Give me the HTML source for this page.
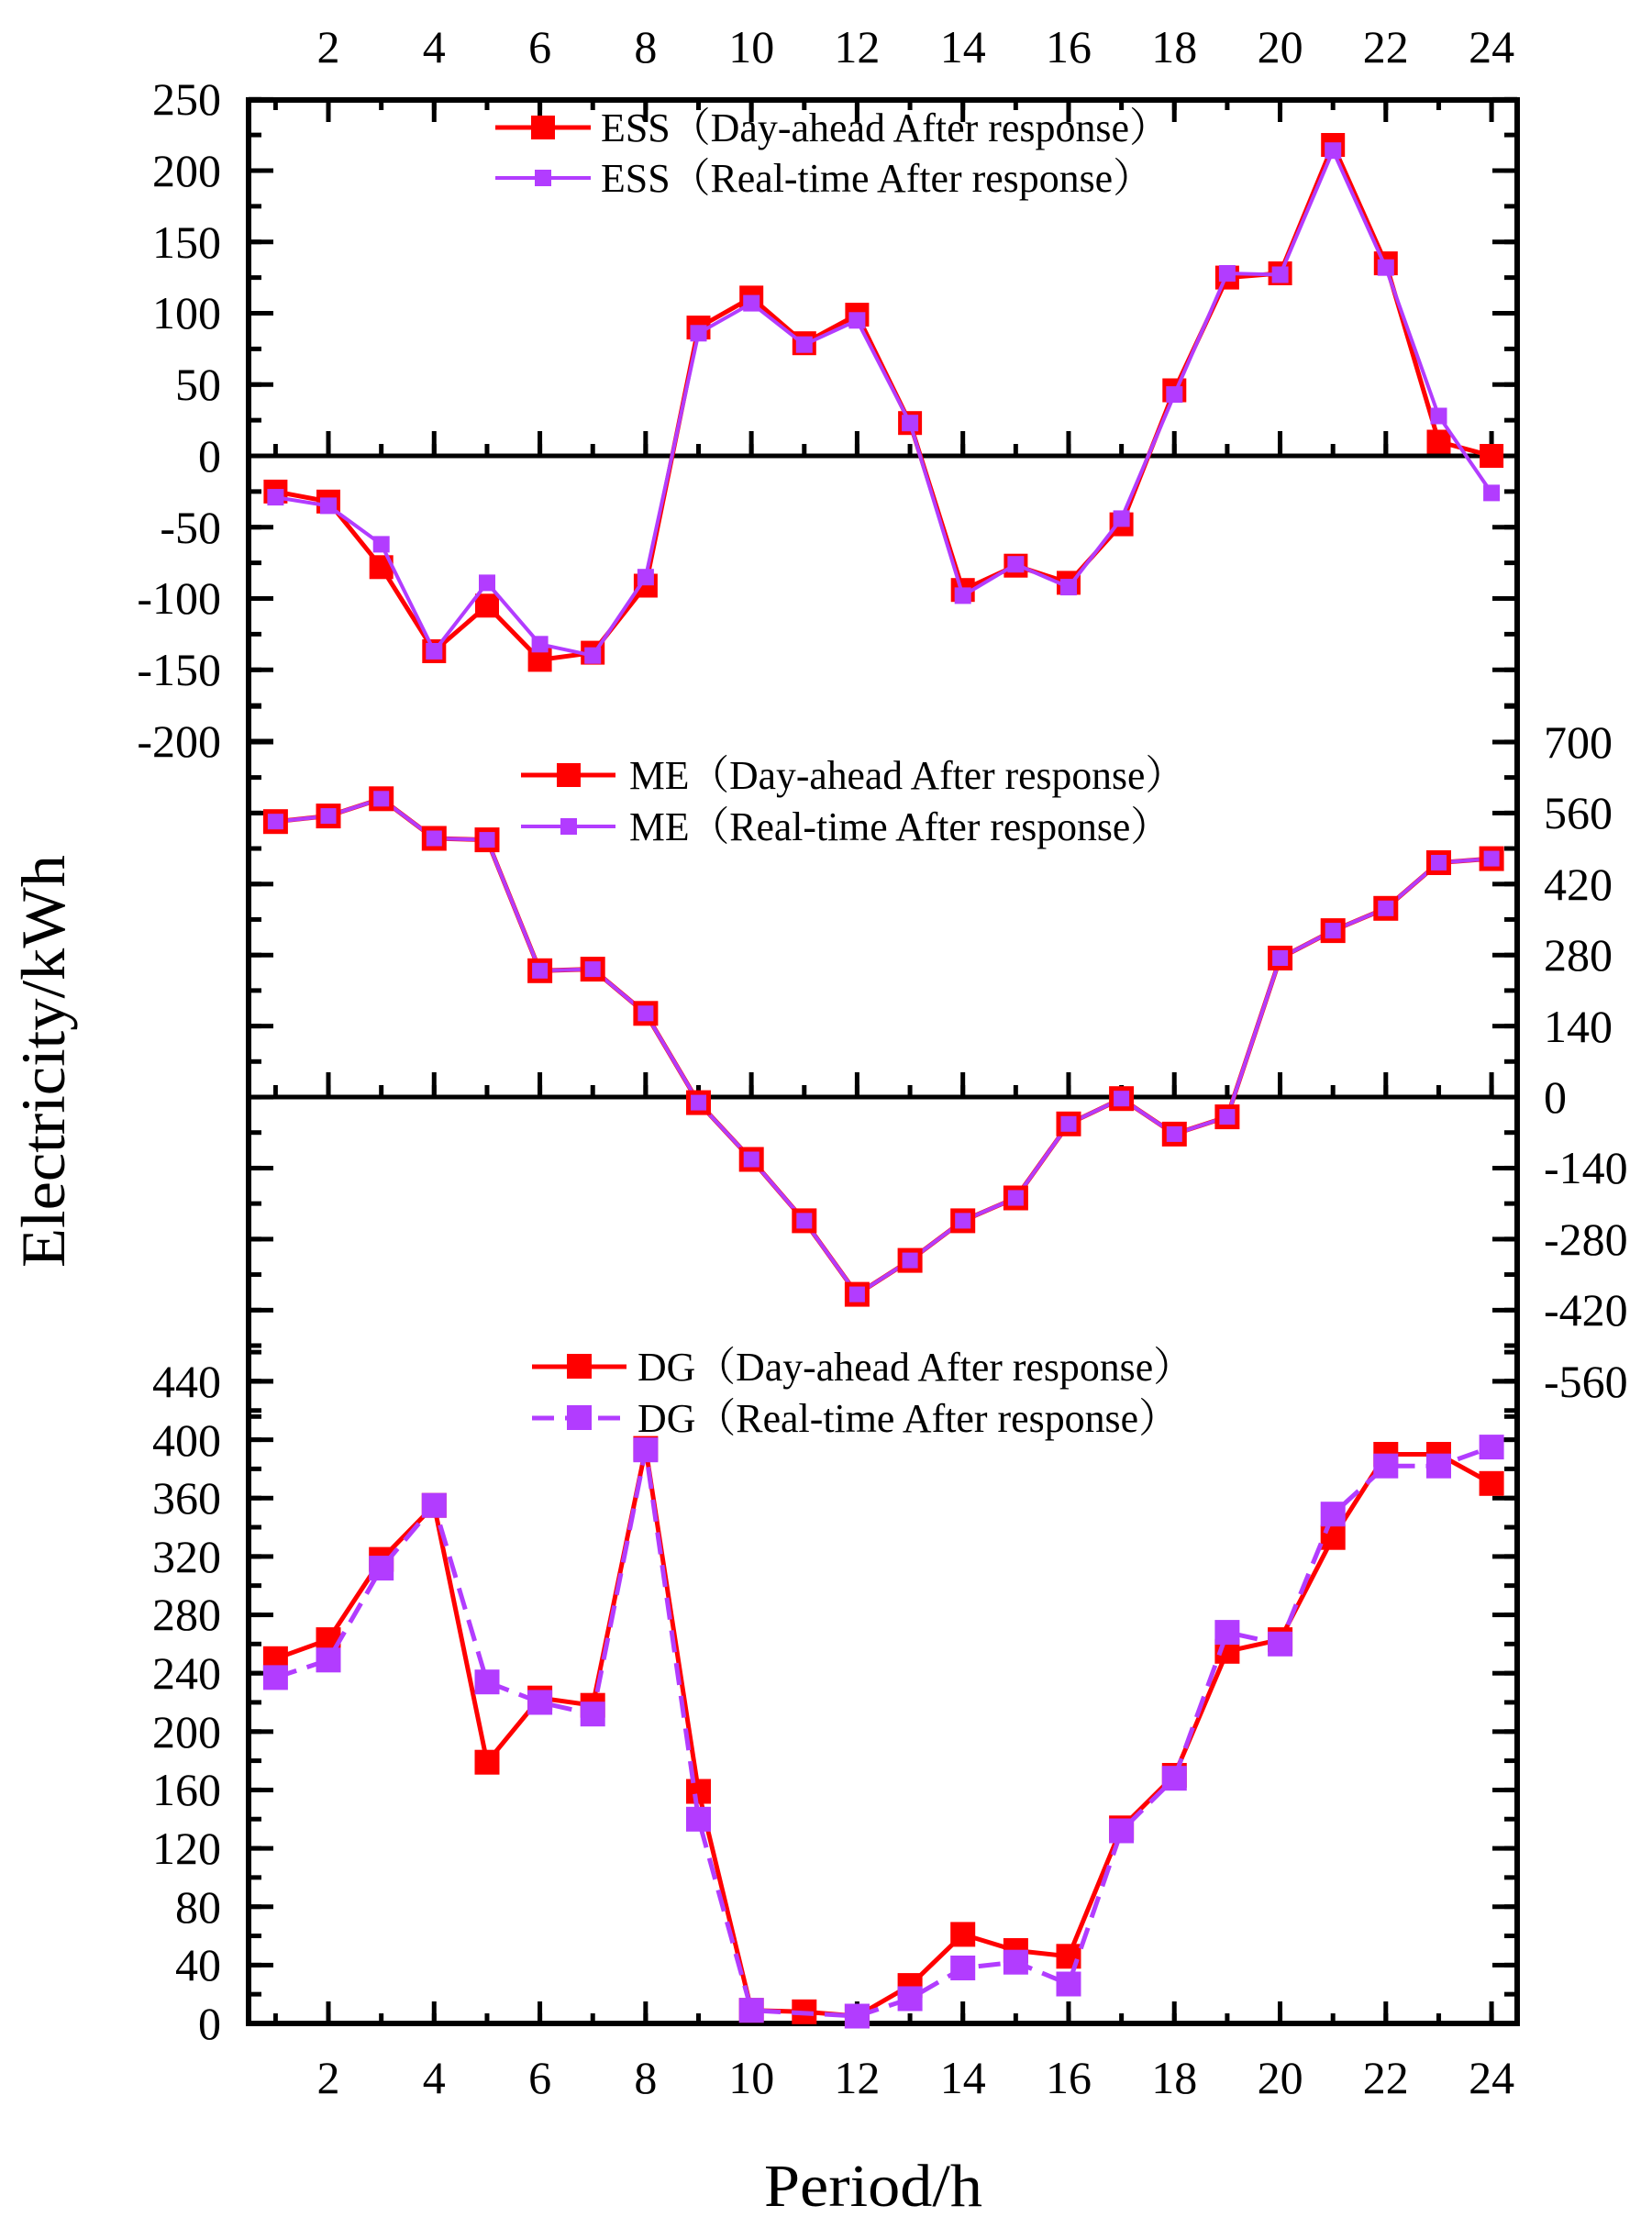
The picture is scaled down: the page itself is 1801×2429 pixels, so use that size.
<!DOCTYPE html>
<html><head><meta charset="utf-8"><style>
html,body{margin:0;padding:0;background:#fff}
svg{display:block}
text{font-family:"Liberation Serif","Noto Serif CJK SC",serif;fill:#000}
</style></head><body>
<svg width="1801" height="2429" viewBox="0 0 1801 2429" xmlns="http://www.w3.org/2000/svg">
<defs>
<pattern id="essMin" patternUnits="userSpaceOnUse" x="0" y="105.75" width="2000" height="38.875"><rect width="2000" height="5"/></pattern>
<pattern id="essMaj" patternUnits="userSpaceOnUse" x="0" y="105.75" width="2000" height="77.75"><rect width="2000" height="5"/></pattern>
<pattern id="meMin" patternUnits="userSpaceOnUse" x="0" y="767.7" width="2000" height="38.71"><rect width="2000" height="5"/></pattern>
<pattern id="meMaj" patternUnits="userSpaceOnUse" x="0" y="806.5" width="2000" height="77.42"><rect width="2000" height="5"/></pattern>
<pattern id="dgMin" patternUnits="userSpaceOnUse" x="0" y="1471.6" width="2000" height="31.82"><rect width="2000" height="5"/></pattern>
<pattern id="dgMaj" patternUnits="userSpaceOnUse" x="0" y="1503.5" width="2000" height="63.64"><rect width="2000" height="5"/></pattern>
<pattern id="xMin" patternUnits="userSpaceOnUse" x="297.9" y="0" width="57.64" height="3000"><rect width="5" height="3000"/></pattern>
<pattern id="xMaj" patternUnits="userSpaceOnUse" x="355.5" y="0" width="115.28" height="3000"><rect width="5" height="3000"/></pattern>
</defs>

<rect x="271" y="105.75" width="14" height="704.75" fill="url(#essMin)"/>
<rect x="271" y="105.75" width="27" height="704.75" fill="url(#essMaj)"/>
<rect x="271" y="767.7" width="14" height="779.2" fill="url(#meMin)"/>
<rect x="271" y="806.5" width="27" height="701.7" fill="url(#meMaj)"/>
<rect x="271" y="1471.6" width="14" height="734" fill="url(#dgMin)"/>
<rect x="271" y="1503.5" width="27" height="702" fill="url(#dgMaj)"/>
<rect x="1640" y="105.75" width="14" height="665.8" fill="url(#essMin)"/>
<rect x="1627" y="105.75" width="27" height="665.8" fill="url(#essMaj)"/>
<rect x="1640" y="767.7" width="14" height="779.2" fill="url(#meMin)"/>
<rect x="1627" y="806.5" width="27" height="701.7" fill="url(#meMaj)"/>
<rect x="1640" y="1471.6" width="14" height="734" fill="url(#dgMin)"/>
<rect x="1627" y="1503.5" width="27" height="702" fill="url(#dgMaj)"/>
<rect x="297.9" y="109" width="1331" height="11" fill="url(#xMin)"/>
<rect x="355.5" y="109" width="1274" height="24" fill="url(#xMaj)"/>
<rect x="297.9" y="2195" width="1331" height="11" fill="url(#xMin)"/>
<rect x="355.5" y="2182" width="1274" height="24" fill="url(#xMaj)"/>
<rect x="297.9" y="484" width="1331" height="13" fill="url(#xMin)"/>
<rect x="355.5" y="470" width="1274" height="27" fill="url(#xMaj)"/>
<rect x="297.9" y="1183" width="1331" height="13" fill="url(#xMin)"/>
<rect x="355.5" y="1169" width="1274" height="27" fill="url(#xMaj)"/>

<line x1="271" y1="497" x2="1654" y2="497" stroke="#000" stroke-width="5"/>
<line x1="271" y1="1196" x2="1654" y2="1196" stroke="#000" stroke-width="5"/>
<rect x="271" y="109" width="1383" height="2097" fill="none" stroke="#000" stroke-width="6"/>

<polyline fill="none" stroke="#ff0000" stroke-width="5" points="300.4,535.9 358,546.8 415.7,618.3 473.3,710 531,660.3 588.6,719.4 646.2,711.6 703.9,638.5 761.5,357.1 819.2,324.4 876.8,374.2 934.4,343.1 992.1,461.2 1049.7,643.2 1107.4,616.7 1165,635.4 1222.6,571.6 1280.3,425.5 1337.9,302.6 1395.6,298 1453.2,158 1510.8,287.1 1568.5,481.5 1626.1,497"/>
<g fill="#ff0000">
<rect x="287.4" y="522.9" width="26" height="26"/><rect x="345" y="533.8" width="26" height="26"/><rect x="402.7" y="605.3" width="26" height="26"/><rect x="460.3" y="697" width="26" height="26"/><rect x="518" y="647.3" width="26" height="26"/><rect x="575.6" y="706.4" width="26" height="26"/><rect x="633.2" y="698.6" width="26" height="26"/><rect x="690.9" y="625.5" width="26" height="26"/><rect x="748.5" y="344.1" width="26" height="26"/><rect x="806.2" y="311.4" width="26" height="26"/><rect x="863.8" y="361.2" width="26" height="26"/><rect x="921.4" y="330.1" width="26" height="26"/><rect x="979.1" y="448.2" width="26" height="26"/><rect x="1036.7" y="630.2" width="26" height="26"/><rect x="1094.4" y="603.7" width="26" height="26"/><rect x="1152" y="622.4" width="26" height="26"/><rect x="1209.6" y="558.6" width="26" height="26"/><rect x="1267.3" y="412.5" width="26" height="26"/><rect x="1324.9" y="289.6" width="26" height="26"/><rect x="1382.6" y="285" width="26" height="26"/><rect x="1440.2" y="145" width="26" height="26"/><rect x="1497.8" y="274.1" width="26" height="26"/><rect x="1555.5" y="468.5" width="26" height="26"/><rect x="1613.1" y="484" width="26" height="26"/>
</g>
<polyline fill="none" stroke="#b23cff" stroke-width="4" points="300.4,542.1 358,551.4 415.7,593.4 473.3,710 531,635.4 588.6,702.3 646.2,714.7 703.9,629.2 761.5,363.3 819.2,330.6 876.8,375.7 934.4,349.3 992.1,461.2 1049.7,649.4 1107.4,615.2 1165,640.1 1222.6,565.4 1280.3,430.1 1337.9,298 1395.6,299.5 1453.2,164.2 1510.8,291.7 1568.5,453.5 1626.1,537.4"/>
<g fill="#b23cff">
<rect x="291.4" y="533.1" width="18" height="18"/><rect x="349" y="542.4" width="18" height="18"/><rect x="406.7" y="584.4" width="18" height="18"/><rect x="464.3" y="701" width="18" height="18"/><rect x="522" y="626.4" width="18" height="18"/><rect x="579.6" y="693.3" width="18" height="18"/><rect x="637.2" y="705.7" width="18" height="18"/><rect x="694.9" y="620.2" width="18" height="18"/><rect x="752.5" y="354.3" width="18" height="18"/><rect x="810.2" y="321.6" width="18" height="18"/><rect x="867.8" y="366.7" width="18" height="18"/><rect x="925.4" y="340.3" width="18" height="18"/><rect x="983.1" y="452.2" width="18" height="18"/><rect x="1040.7" y="640.4" width="18" height="18"/><rect x="1098.4" y="606.2" width="18" height="18"/><rect x="1156" y="631.1" width="18" height="18"/><rect x="1213.6" y="556.4" width="18" height="18"/><rect x="1271.3" y="421.1" width="18" height="18"/><rect x="1328.9" y="289" width="18" height="18"/><rect x="1386.6" y="290.5" width="18" height="18"/><rect x="1444.2" y="155.2" width="18" height="18"/><rect x="1501.8" y="282.7" width="18" height="18"/><rect x="1559.5" y="444.5" width="18" height="18"/><rect x="1617.1" y="528.4" width="18" height="18"/>
</g>

<polyline fill="none" stroke="#ff0000" stroke-width="5" points="300.4,895.7 358,889.6 415.7,870.8 473.3,914 531,915.6 588.6,1058.3 646.2,1056.6 703.9,1104.8 761.5,1202.1 819.2,1264 876.8,1330.9 934.4,1411.1 992.1,1374.1 1049.7,1330.9 1107.4,1306 1165,1225.3 1222.6,1197.7 1280.3,1236.4 1337.9,1217.6 1395.6,1044.5 1453.2,1014.6 1510.8,990.3 1568.5,940.5 1626.1,936.1"/>
<polyline fill="none" stroke="#b23cff" stroke-width="4" points="300.4,895.7 358,889.6 415.7,870.8 473.3,914 531,915.6 588.6,1058.3 646.2,1056.6 703.9,1104.8 761.5,1202.1 819.2,1264 876.8,1330.9 934.4,1411.1 992.1,1374.1 1049.7,1330.9 1107.4,1306 1165,1225.3 1222.6,1197.7 1280.3,1236.4 1337.9,1217.6 1395.6,1044.5 1453.2,1014.6 1510.8,990.3 1568.5,940.5 1626.1,936.1"/>
<g fill="#b23cff" stroke="#ff0000" stroke-width="5">
<rect x="289.4" y="884.7" width="22" height="22"/><rect x="347" y="878.6" width="22" height="22"/><rect x="404.7" y="859.8" width="22" height="22"/><rect x="462.3" y="903" width="22" height="22"/><rect x="520" y="904.6" width="22" height="22"/><rect x="577.6" y="1047.3" width="22" height="22"/><rect x="635.2" y="1045.6" width="22" height="22"/><rect x="692.9" y="1093.8" width="22" height="22"/><rect x="750.5" y="1191.1" width="22" height="22"/><rect x="808.2" y="1253" width="22" height="22"/><rect x="865.8" y="1319.9" width="22" height="22"/><rect x="923.4" y="1400.1" width="22" height="22"/><rect x="981.1" y="1363.1" width="22" height="22"/><rect x="1038.7" y="1319.9" width="22" height="22"/><rect x="1096.4" y="1295" width="22" height="22"/><rect x="1154" y="1214.3" width="22" height="22"/><rect x="1211.6" y="1186.7" width="22" height="22"/><rect x="1269.3" y="1225.4" width="22" height="22"/><rect x="1326.9" y="1206.6" width="22" height="22"/><rect x="1384.6" y="1033.5" width="22" height="22"/><rect x="1442.2" y="1003.6" width="22" height="22"/><rect x="1499.8" y="979.3" width="22" height="22"/><rect x="1557.5" y="929.5" width="22" height="22"/><rect x="1615.1" y="925.1" width="22" height="22"/>
</g>

<polyline fill="none" stroke="#ff0000" stroke-width="5" points="300.4,1808.3 358,1787.6 415.7,1700.1 473.3,1641.2 531,1921.2 588.6,1851.2 646.2,1859.2 703.9,1579.1 761.5,1953 819.2,2191.7 876.8,2193.3 934.4,2198 992.1,2164.6 1049.7,2108.9 1107.4,2126.5 1165,2132.8 1222.6,1992.8 1280.3,1935.5 1337.9,1800.3 1395.6,1787.6 1453.2,1676.2 1510.8,1585.5 1568.5,1585.5 1626.1,1617.3"/>
<g fill="#ff0000">
<rect x="286.9" y="1794.8" width="27" height="27"/><rect x="344.5" y="1774.1" width="27" height="27"/><rect x="402.2" y="1686.6" width="27" height="27"/><rect x="459.8" y="1627.7" width="27" height="27"/><rect x="517.5" y="1907.7" width="27" height="27"/><rect x="575.1" y="1837.7" width="27" height="27"/><rect x="632.7" y="1845.7" width="27" height="27"/><rect x="690.4" y="1565.6" width="27" height="27"/><rect x="748" y="1939.5" width="27" height="27"/><rect x="805.7" y="2178.2" width="27" height="27"/><rect x="863.3" y="2179.8" width="27" height="27"/><rect x="920.9" y="2184.5" width="27" height="27"/><rect x="978.6" y="2151.1" width="27" height="27"/><rect x="1036.2" y="2095.4" width="27" height="27"/><rect x="1093.9" y="2113" width="27" height="27"/><rect x="1151.5" y="2119.3" width="27" height="27"/><rect x="1209.1" y="1979.3" width="27" height="27"/><rect x="1266.8" y="1922" width="27" height="27"/><rect x="1324.4" y="1786.8" width="27" height="27"/><rect x="1382.1" y="1774.1" width="27" height="27"/><rect x="1439.7" y="1662.7" width="27" height="27"/><rect x="1497.3" y="1572" width="27" height="27"/><rect x="1555" y="1572" width="27" height="27"/><rect x="1612.6" y="1603.8" width="27" height="27"/>
</g>
<polyline fill="none" stroke="#b23cff" stroke-width="5" stroke-dasharray="24 12" points="300.4,1828.9 358,1809.8 415.7,1709.6 473.3,1641.2 531,1833.7 588.6,1856 646.2,1868.7 703.9,1580.7 761.5,1983.3 819.2,2191.7 934.4,2198 992.1,2179 1049.7,2145.5 1107.4,2139.2 1165,2163 1222.6,1996 1280.3,1938.7 1337.9,1779.6 1395.6,1792.3 1453.2,1650.7 1510.8,1598.2 1568.5,1598.2 1626.1,1577.6"/>
<g fill="#b23cff">
<rect x="286.9" y="1815.4" width="27" height="27"/><rect x="344.5" y="1796.3" width="27" height="27"/><rect x="402.2" y="1696.1" width="27" height="27"/><rect x="459.8" y="1627.7" width="27" height="27"/><rect x="517.5" y="1820.2" width="27" height="27"/><rect x="575.1" y="1842.5" width="27" height="27"/><rect x="632.7" y="1855.2" width="27" height="27"/><rect x="690.4" y="1567.2" width="27" height="27"/><rect x="748" y="1969.8" width="27" height="27"/><rect x="805.7" y="2178.2" width="27" height="27"/><rect x="920.9" y="2184.5" width="27" height="27"/><rect x="978.6" y="2165.5" width="27" height="27"/><rect x="1036.2" y="2132" width="27" height="27"/><rect x="1093.9" y="2125.7" width="27" height="27"/><rect x="1151.5" y="2149.5" width="27" height="27"/><rect x="1209.1" y="1982.5" width="27" height="27"/><rect x="1266.8" y="1925.2" width="27" height="27"/><rect x="1324.4" y="1766.1" width="27" height="27"/><rect x="1382.1" y="1778.8" width="27" height="27"/><rect x="1439.7" y="1637.2" width="27" height="27"/><rect x="1497.3" y="1584.7" width="27" height="27"/><rect x="1555" y="1584.7" width="27" height="27"/><rect x="1612.6" y="1564.1" width="27" height="27"/>
</g>

<g font-size="44">
<line x1="540" y1="139" x2="644" y2="139" stroke="#ff0000" stroke-width="5"/><rect x="579" y="126" width="26" height="26" fill="#ff0000"/>
<text x="655" y="154" textLength="620" lengthAdjust="spacingAndGlyphs">ESS（Day-ahead After response）</text>
<line x1="540" y1="194" x2="644" y2="194" stroke="#b23cff" stroke-width="4"/><rect x="583" y="185" width="18" height="18" fill="#b23cff"/>
<text x="655" y="209" textLength="602" lengthAdjust="spacingAndGlyphs">ESS（Real-time After response）</text>

<line x1="568" y1="845" x2="671" y2="845" stroke="#ff0000" stroke-width="5"/><rect x="607" y="832" width="26" height="26" fill="#ff0000"/>
<text x="686" y="860" textLength="606" lengthAdjust="spacingAndGlyphs">ME（Day-ahead After response）</text>
<line x1="568" y1="901" x2="671" y2="901" stroke="#b23cff" stroke-width="4"/><rect x="611" y="892" width="18" height="18" fill="#b23cff"/>
<text x="686" y="916" textLength="590" lengthAdjust="spacingAndGlyphs">ME（Real-time After response）</text>

<line x1="580" y1="1490" x2="683" y2="1490" stroke="#ff0000" stroke-width="5"/><rect x="618" y="1476" width="27" height="27" fill="#ff0000"/>
<text x="695" y="1505" textLength="606" lengthAdjust="spacingAndGlyphs">DG（Day-ahead After response）</text>
<line x1="580" y1="1546" x2="683" y2="1546" stroke="#b23cff" stroke-width="5" stroke-dasharray="24 12"/><rect x="618" y="1532" width="27" height="27" fill="#b23cff"/>
<text x="695" y="1561" textLength="590" lengthAdjust="spacingAndGlyphs">DG（Real-time After response）</text>
</g>

<g font-size="50" text-anchor="end">
<text x="241" y="125">250</text><text x="241" y="203">200</text><text x="241" y="281">150</text><text x="241" y="358">100</text><text x="241" y="436">50</text><text x="241" y="514">0</text><text x="241" y="592">-50</text><text x="241" y="669">-100</text><text x="241" y="747">-150</text><text x="241" y="825">-200</text>
<text x="241" y="1523">440</text><text x="241" y="1587">400</text><text x="241" y="1650">360</text><text x="241" y="1714">320</text><text x="241" y="1777">280</text><text x="241" y="1841">240</text><text x="241" y="1905">200</text><text x="241" y="1968">160</text><text x="241" y="2032">120</text><text x="241" y="2096">80</text><text x="241" y="2159">40</text><text x="241" y="2223">0</text>
</g>
<g font-size="50">
<text x="1683" y="826">700</text><text x="1683" y="903">560</text><text x="1683" y="981">420</text><text x="1683" y="1058">280</text><text x="1683" y="1136">140</text><text x="1683" y="1213">0</text><text x="1683" y="1290">-140</text><text x="1683" y="1368">-280</text><text x="1683" y="1445">-420</text><text x="1683" y="1523">-560</text>
</g>
<g font-size="50" text-anchor="middle">
<text x="358" y="68">2</text><text x="473.3" y="68">4</text><text x="588.6" y="68">6</text><text x="703.9" y="68">8</text><text x="819.2" y="68">10</text><text x="934.4" y="68">12</text><text x="1049.7" y="68">14</text><text x="1165" y="68">16</text><text x="1280.3" y="68">18</text><text x="1395.6" y="68">20</text><text x="1510.8" y="68">22</text><text x="1626.1" y="68">24</text>
<text x="358" y="2282">2</text><text x="473.3" y="2282">4</text><text x="588.6" y="2282">6</text><text x="703.9" y="2282">8</text><text x="819.2" y="2282">10</text><text x="934.4" y="2282">12</text><text x="1049.7" y="2282">14</text><text x="1165" y="2282">16</text><text x="1280.3" y="2282">18</text><text x="1395.6" y="2282">20</text><text x="1510.8" y="2282">22</text><text x="1626.1" y="2282">24</text>
</g>

<text x="952" y="2405" font-size="66" text-anchor="middle" textLength="238" lengthAdjust="spacingAndGlyphs">Period/h</text>
<text transform="translate(70,1157) rotate(-90)" font-size="68" text-anchor="middle" textLength="450" lengthAdjust="spacingAndGlyphs">Electricity/kWh</text>
</svg>
</body></html>
